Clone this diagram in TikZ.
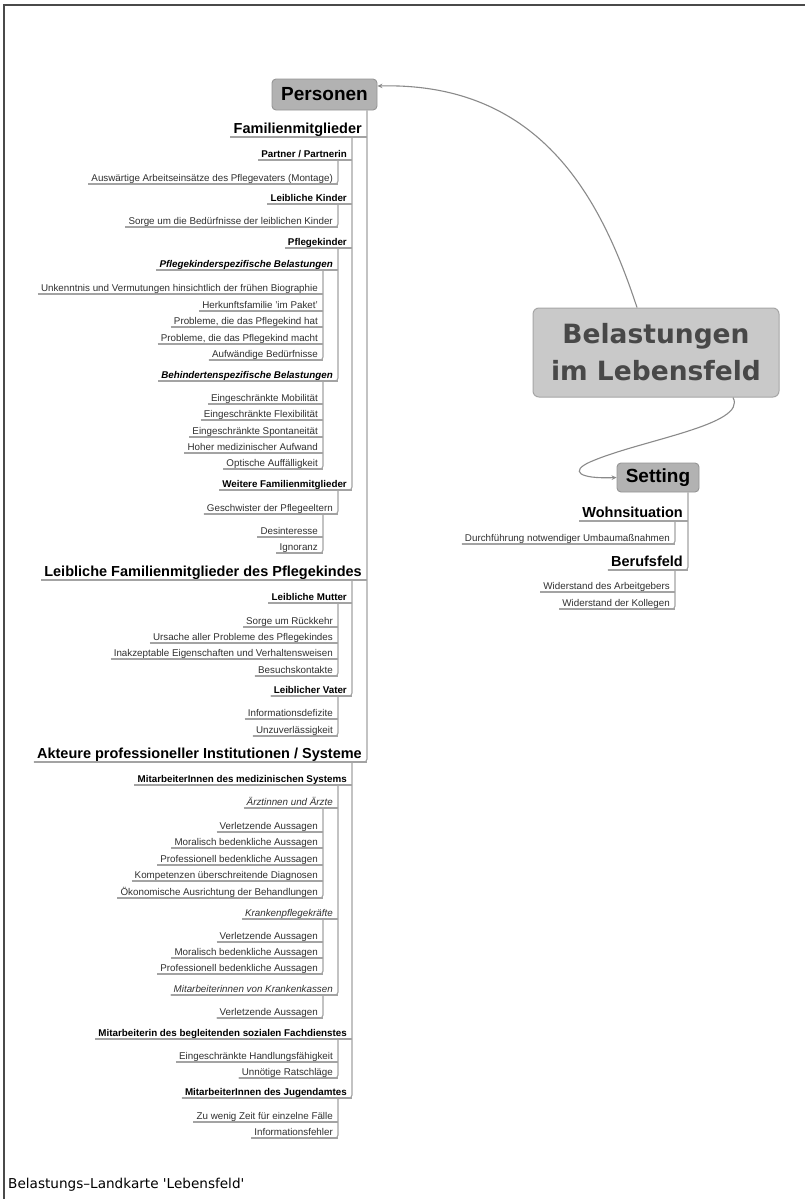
\documentclass[tikz,border=0pt]{standalone}
\usepackage{fontspec}
\setmainfont{Liberation Sans}[Ligatures=ResetAll]
\newfontfamily\dejavu{DejaVu Sans}[Ligatures=ResetAll]
\usetikzlibrary{arrows.meta}

\definecolor{linegray}{HTML}{A3A3A3}
\definecolor{curvegray}{HTML}{8A8A8A}
\definecolor{textgray}{HTML}{303030}
\definecolor{boxfill}{HTML}{B2B2B2}
\definecolor{boxdraw}{HTML}{959595}
\definecolor{centerfill}{HTML}{C9C9C9}
\definecolor{centerdraw}{HTML}{A6A6A6}
\definecolor{centertext}{HTML}{484848}
\definecolor{framegray}{HTML}{4A4A4A}

% a topic: text right-aligned over its own underline, which runs on to the parent line
\newcommand\mmtopic[5]{%
  \node[#2] (#1) at (#3,#4) {#5};
  \draw[uline] (#1.south west) -- ([xshift=2pt]#1.south east);}

\begin{document}
\begin{tikzpicture}[x=1pt,y=-1pt,
  base/.style={anchor=south east, inner xsep=3pt, inner ysep=2pt, text depth=0pt, text=textgray},
  lone/.style={base, inner ysep=3pt, text=black, font=\bfseries\fontsize{14.5}{17}\selectfont},
  ltwo/.style={base, text=black, font=\bfseries\fontsize{9.8}{12}\selectfont},
  ltwoi/.style={base, text=black, font=\bfseries\itshape\fontsize{9.8}{12}\selectfont},
  leaf/.style={base, font=\fontsize{9.8}{12}\selectfont},
  leafi/.style={base, font=\itshape\fontsize{9.8}{12}\selectfont},
  uline/.style={draw=linegray, line width=1.1pt},
  conn/.style={draw=linegray, line width=1.1pt, rounded corners=3pt},
  mainbox/.style={rectangle, rounded corners=4pt, fill=boxfill, draw=boxdraw, line width=0.9pt,
    inner sep=0pt, text=black, font=\bfseries\fontsize{19}{22}\selectfont},
  centralbox/.style={rectangle, rounded corners=6pt, fill=centerfill, draw=centerdraw, line width=1pt,
    minimum width=246pt, minimum height=89pt, align=center, text=centertext,
    font=\dejavu\bfseries\fontsize{26.5}{37}\selectfont},
  curve/.style={draw=curvegray, line width=1.1pt, -{Stealth[length=5pt,width=4.5pt]}}
]
\fill[white] (0,0) rectangle (805,1199);
\useasboundingbox (0,0) rectangle (805,1199);

% page frame
\draw[framegray, line width=2pt] (4,1199) -- (4,5) -- (805,5);

% x positions of the vertical connector lines
\coordinate (Lp) at (367,0);
\coordinate (La) at (352,0);
\coordinate (Lb) at (338,0);
\coordinate (Lc) at (323,0);
\coordinate (Ls) at (688,0);
\coordinate (Lt) at (675,0);

% main topics
\node[centralbox] (central) at (656,352.5) {Belastungen\\im Lebensfeld};
\node[mainbox, minimum width=105pt, minimum height=31pt] (personen) at (324.5,94.5) {Personen};
\node[mainbox, minimum width=82pt, minimum height=29pt] (setting) at (658,477.5) {Setting};

\draw[curve] ([xshift=-19pt]central.north) .. controls (603,205) and (545,82) .. ([yshift=8.5pt]personen.east);
\draw[curve] ([xshift=77pt]central.south) .. controls (748,425) and (640,440) .. (590,462)
  .. controls (570,471) and (578,479) .. (setting.west);

% Personen branch
\mmtopic{fam}{lone}{365}{137}{Familienmitglieder}
\mmtopic{partner}{ltwo}{350}{160}{Partner / Partnerin}
\mmtopic{montage}{leaf}{336}{184}{Auswärtige Arbeitseinsätze des Pflegevaters (Montage)}
\mmtopic{lkinder}{ltwo}{350}{204}{Leibliche Kinder}
\mmtopic{sorgek}{leaf}{336}{227}{Sorge um die Bedürfnisse der leiblichen Kinder}
\mmtopic{pkinder}{ltwo}{350}{248}{Pflegekinder}
\mmtopic{pspez}{ltwoi}{336}{270}{Pflegekinderspezifische Belastungen}
\mmtopic{unk}{leaf}{321}{294}{Unkenntnis und Vermutungen hinsichtlich der frühen Biographie}
\mmtopic{herk}{leaf}{321}{311}{Herkunftsfamilie 'im Paket'}
\mmtopic{probhat}{leaf}{321}{327}{Probleme, die das Pflegekind hat}
\mmtopic{probmacht}{leaf}{321}{344}{Probleme, die das Pflegekind macht}
\mmtopic{aufw}{leaf}{321}{360}{Aufwändige Bedürfnisse}
\mmtopic{bspez}{ltwoi}{336}{381}{Behindertenspezifische Belastungen}
\mmtopic{mob}{leaf}{321}{404}{Eingeschränkte Mobilität}
\mmtopic{flex}{leaf}{321}{420}{Eingeschränkte Flexibilität}
\mmtopic{spont}{leaf}{321}{437}{Eingeschränkte Spontaneität}
\mmtopic{hoher}{leaf}{321}{453}{Hoher medizinischer Aufwand}
\mmtopic{opt}{leaf}{321}{469}{Optische Auffälligkeit}
\mmtopic{weitere}{ltwo}{350}{490}{Weitere Familienmitglieder}
\mmtopic{geschw}{leaf}{336}{514}{Geschwister der Pflegeeltern}
\mmtopic{desint}{leaf}{321}{537}{Desinteresse}
\mmtopic{ignor}{leaf}{321}{553}{Ignoranz}
\mmtopic{lfam}{lone}{365}{580}{Leibliche Familienmitglieder des Pflegekindes}
\mmtopic{mutter}{ltwo}{350}{603}{Leibliche Mutter}
\mmtopic{rueck}{leaf}{336}{627}{Sorge um Rückkehr}
\mmtopic{ursache}{leaf}{336}{643}{Ursache aller Probleme des Pflegekindes}
\mmtopic{inakz}{leaf}{336}{659}{Inakzeptable Eigenschaften und Verhaltensweisen}
\mmtopic{besuch}{leaf}{336}{676}{Besuchskontakte}
\mmtopic{vater}{ltwo}{350}{696}{Leiblicher Vater}
\mmtopic{infodef}{leaf}{336}{719}{Informationsdefizite}
\mmtopic{unzuv}{leaf}{336}{736}{Unzuverlässigkeit}
\mmtopic{akt}{lone}{365}{762}{Akteure professioneller Institutionen / Systeme}
\mmtopic{med}{ltwo}{350}{785}{MitarbeiterInnen des medizinischen Systems}
\mmtopic{aerzte}{leafi}{336}{808}{Ärztinnen und Ärzte}
\mmtopic{averl}{leaf}{321}{832}{Verletzende Aussagen}
\mmtopic{amor}{leaf}{321}{848}{Moralisch bedenkliche Aussagen}
\mmtopic{aprof}{leaf}{321}{865}{Professionell bedenkliche Aussagen}
\mmtopic{akomp}{leaf}{321}{881}{Kompetenzen überschreitende Diagnosen}
\mmtopic{aoek}{leaf}{321}{898}{Ökonomische Ausrichtung der Behandlungen}
\mmtopic{kpfl}{leafi}{336}{919}{Krankenpflegekräfte}
\mmtopic{kverl}{leaf}{321}{942}{Verletzende Aussagen}
\mmtopic{kmor}{leaf}{321}{958}{Moralisch bedenkliche Aussagen}
\mmtopic{kprof}{leaf}{321}{974}{Professionell bedenkliche Aussagen}
\mmtopic{kasse}{leafi}{336}{995}{Mitarbeiterinnen von Krankenkassen}
\mmtopic{kaverl}{leaf}{321}{1018}{Verletzende Aussagen}
\mmtopic{fach}{ltwo}{350}{1039}{Mitarbeiterin des begleitenden sozialen Fachdienstes}
\mmtopic{handl}{leaf}{336}{1062}{Eingeschränkte Handlungsfähigkeit}
\mmtopic{rat}{leaf}{336}{1078}{Unnötige Ratschläge}
\mmtopic{jugend}{ltwo}{350}{1098}{MitarbeiterInnen des Jugendamtes}
\mmtopic{zeit}{leaf}{336}{1122}{Zu wenig Zeit für einzelne Fälle}
\mmtopic{infof}{leaf}{336}{1138}{Informationsfehler}

% Setting branch
\mmtopic{wohn}{lone}{686}{521}{Wohnsituation}
\mmtopic{umbau}{leaf}{673}{544}{Durchführung notwendiger Umbaumaßnahmen}
\mmtopic{beruf}{lone}{686}{570}{Berufsfeld}
\mmtopic{arbg}{leaf}{673}{592}{Widerstand des Arbeitgebers}
\mmtopic{koll}{leaf}{673}{609}{Widerstand der Kollegen}

% vertical connector lines from each topic down to its last child
\draw[conn] (personen.south -| Lp) |- (akt.south west);
\draw[conn] (fam.south -| La) |- (weitere.south west);
\draw[conn] (partner.south -| Lb) |- (montage.south west);
\draw[conn] (lkinder.south -| Lb) |- (sorgek.south west);
\draw[conn] (pkinder.south -| Lb) |- (bspez.south west);
\draw[conn] (pspez.south -| Lc) |- (aufw.south west);
\draw[conn] (bspez.south -| Lc) |- (opt.south west);
\draw[conn] (weitere.south -| Lb) |- (geschw.south west);
\draw[conn] (geschw.south -| Lc) |- (ignor.south west);
\draw[conn] (lfam.south -| La) |- (vater.south west);
\draw[conn] (mutter.south -| Lb) |- (besuch.south west);
\draw[conn] (vater.south -| Lb) |- (unzuv.south west);
\draw[conn] (akt.south -| La) |- (jugend.south west);
\draw[conn] (med.south -| Lb) |- (kasse.south west);
\draw[conn] (aerzte.south -| Lc) |- (aoek.south west);
\draw[conn] (kpfl.south -| Lc) |- (kprof.south west);
\draw[conn] (kasse.south -| Lc) |- (kaverl.south west);
\draw[conn] (fach.south -| Lb) |- (rat.south west);
\draw[conn] (jugend.south -| Lb) |- (infof.south west);
\draw[conn] (setting.south -| Ls) |- (beruf.south west);
\draw[conn] (wohn.south -| Lt) |- (umbau.south west);
\draw[conn] (beruf.south -| Lt) |- (koll.south west);

% caption
\node[anchor=base west, inner sep=0pt, text=black, font=\dejavu\fontsize{13.6}{16}\selectfont]
  (caption) at (8,1188) {Belastungs–Landkarte 'Lebensfeld'};
\end{tikzpicture}
\end{document}
